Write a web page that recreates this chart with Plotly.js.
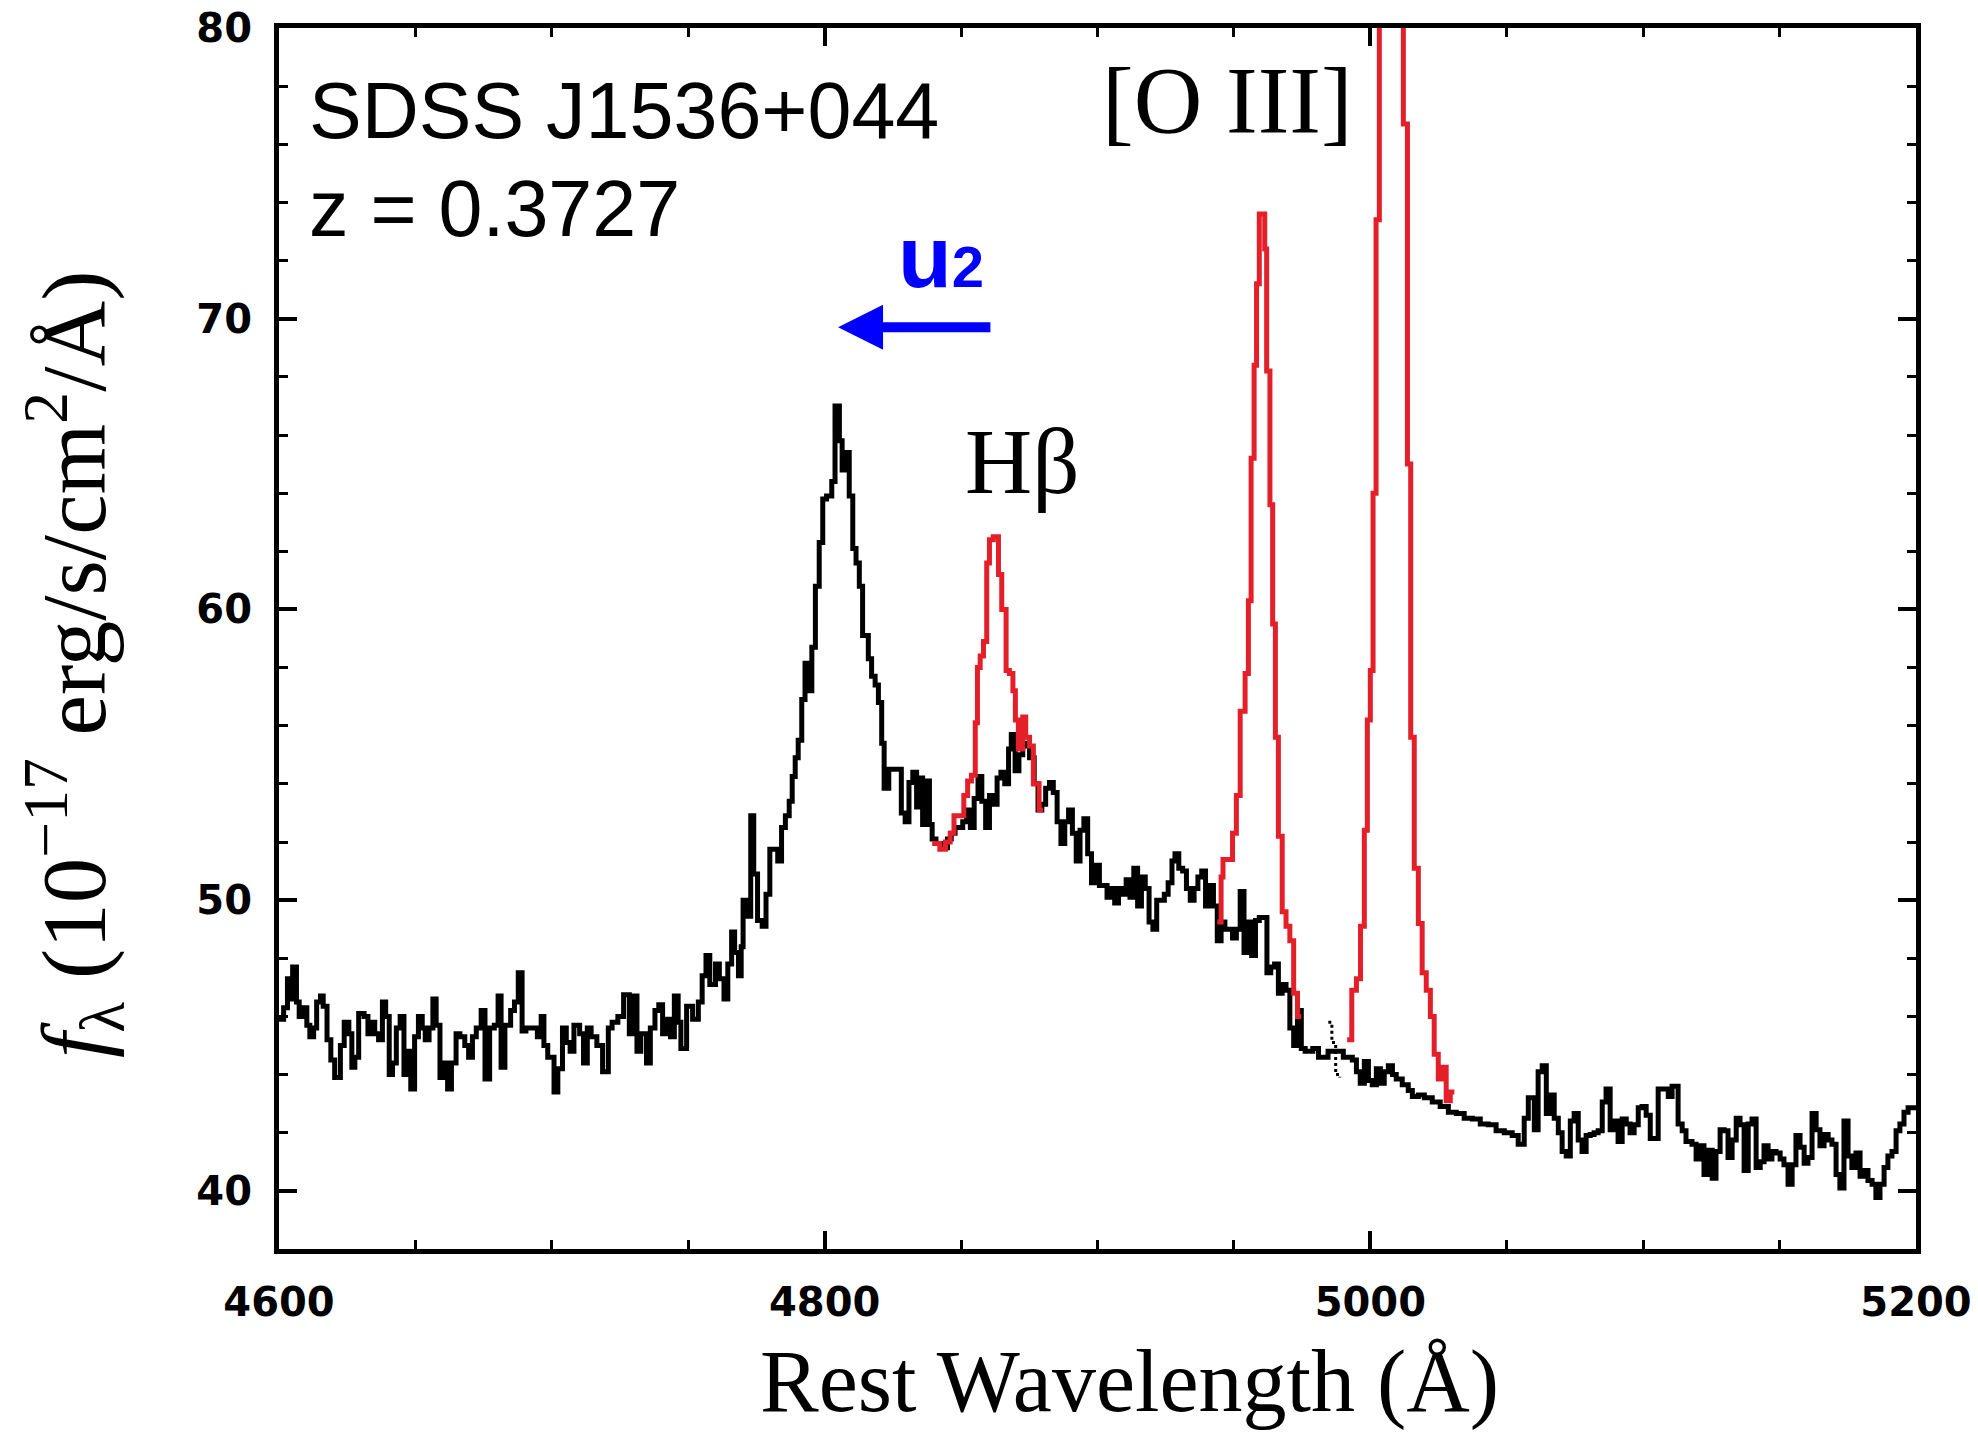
<!DOCTYPE html>
<html>
<head>
<meta charset="utf-8">
<script src="https://cdn.plot.ly/plotly-3.0.1.min.js"></script>
<style>html,body{margin:0;padding:0;background:#fff;}#chart{width:1978px;height:1439px;}</style>
</head>
<body>
<div id="chart"></div>
<script>
// Observed spectrum (narrow-line subtracted), left bin edges in rest wavelength (Å)
const blackWl = [4600.0,4601.7,4603.1,4604.3,4605.0,4606.4,4607.4,4608.8,4610.2,4611.3,4612.7,4613.8,4615.2,4616.2,4617.6,4619.0,4620.4,4622.5,4623.9,4625.6,4626.7,4627.8,4629.2,4631.2,4632.6,4634.0,4635.1,4636.5,4637.9,4639.1,4640.4,4641.6,4643.0,4644.4,4645.8,4647.2,4648.3,4649.7,4651.1,4652.5,4653.6,4655.0,4656.4,4657.6,4659.0,4660.4,4661.8,4663.2,4664.9,4666.3,4668.1,4669.5,4670.9,4672.3,4674.1,4675.5,4677.2,4678.9,4680.3,4681.4,4682.8,4684.9,4686.3,4687.7,4689.1,4690.5,4692.6,4694.7,4696.1,4697.1,4698.5,4700.8,4702.2,4703.9,4705.3,4706.7,4708.1,4710.2,4711.6,4713.0,4714.4,4716.5,4718.6,4720.7,4722.1,4724.2,4726.3,4728.4,4729.8,4731.2,4732.6,4734.7,4736.1,4737.8,4739.2,4740.6,4742.0,4743.5,4744.9,4746.3,4747.3,4749.4,4751.6,4753.7,4755.1,4756.5,4757.9,4760.0,4761.4,4763.1,4764.5,4765.9,4767.0,4768.4,4769.4,4770.1,4771.5,4772.9,4774.0,4775.4,4777.1,4778.5,4779.9,4782.8,4784.2,4785.6,4787.0,4788.1,4789.2,4790.3,4791.6,4792.8,4793.8,4795.3,4796.6,4798.0,4799.3,4800.7,4802.6,4803.8,4805.4,4806.4,4807.6,4809.0,4810.3,4811.5,4812.7,4813.9,4816.0,4817.2,4818.5,4819.7,4820.9,4821.8,4823.5,4828.1,4829.5,4830.9,4832.3,4833.7,4834.7,4835.9,4837.2,4838.4,4839.4,4840.8,4842.9,4845.0,4846.4,4847.8,4850.6,4852.0,4853.4,4854.8,4856.2,4857.6,4859.0,4860.4,4861.8,4863.2,4864.6,4866.0,4867.4,4868.4,4869.8,4871.2,4872.6,4874.0,4875.1,4876.8,4878.2,4879.6,4881.0,4882.4,4883.8,4885.2,4886.6,4888.0,4889.4,4890.8,4892.2,4893.6,4895.0,4896.4,4897.8,4899.3,4900.7,4903.5,4904.9,4906.3,4907.7,4909.1,4910.5,4911.9,4913.3,4914.7,4916.1,4917.5,4918.9,4920.3,4921.7,4924.5,4925.9,4927.3,4928.4,4929.8,4931.2,4932.6,4934.0,4935.4,4936.8,4938.2,4939.6,4941.1,4942.5,4943.9,4945.3,4946.7,4949.5,4950.9,4952.3,4953.7,4955.1,4956.5,4957.9,4959.3,4962.1,4963.5,4964.9,4966.3,4967.7,4969.1,4970.5,4971.9,4973.3,4974.7,4976.1,4978.9,4981.0,4984.5,4990.1,4993.4,4994.9,4996.3,4997.8,4999.3,5000.7,5002.2,5003.7,5005.1,5006.6,5008.1,5009.5,5011.7,5013.9,5015.4,5017.6,5019.8,5022.7,5025.6,5028.6,5031.5,5034.4,5037.4,5040.3,5043.2,5046.1,5049.1,5052.0,5054.2,5056.4,5057.9,5060.1,5061.5,5063.0,5064.5,5065.9,5067.4,5068.9,5070.3,5071.8,5073.3,5074.7,5076.2,5077.6,5079.1,5080.6,5082.0,5083.5,5085.0,5086.4,5087.9,5089.4,5090.8,5092.3,5093.8,5095.2,5096.7,5098.2,5099.6,5101.1,5102.6,5104.0,5105.5,5106.9,5109.2,5110.6,5112.8,5114.3,5115.7,5117.9,5119.4,5120.9,5122.3,5123.8,5125.3,5126.7,5128.2,5129.7,5131.1,5132.6,5134.1,5135.5,5137.0,5138.5,5139.9,5141.4,5142.9,5144.3,5145.8,5147.2,5148.7,5150.2,5151.6,5153.1,5154.6,5156.0,5157.5,5159.0,5160.4,5161.9,5163.4,5164.8,5166.3,5167.8,5169.2,5170.7,5172.1,5173.6,5175.1,5176.5,5178.0,5179.5,5180.9,5182.4,5183.9,5185.3,5186.8,5188.3,5189.7,5191.2,5192.7,5194.1,5195.6,5197.1,5200.0];
const blackFlux = [45.9,46.3,47.3,46.6,47.7,46.5,46.0,46.3,45.7,45.3,45.6,46.5,46.7,46.35,45.2,44.5,43.9,45.0,45.8,45.4,44.25,44.6,46.1,46.0,45.4,45.8,45.4,45.2,46.5,46.0,44.0,44.4,45.6,46.0,44.0,44.8,43.5,45.3,46.0,45.6,45.2,45.6,46.6,45.7,43.9,44.4,43.5,44.4,45.4,45.3,45.0,44.6,45.3,45.6,46.2,43.85,45.6,45.7,46.7,44.25,45.7,46.2,46.5,47.5,45.5,45.6,45.6,45.3,46.0,45.0,44.6,43.4,44.2,45.6,45.1,44.8,45.7,45.4,44.4,45.6,45.3,45.0,44.1,45.6,45.8,46.0,46.75,45.4,46.7,44.8,45.4,44.4,45.6,46.2,46.4,45.4,45.9,45.3,46.7,45.8,44.9,46.35,45.9,46.5,47.4,48.1,47.1,47.8,47.3,46.6,47.8,48.9,48.2,47.4,48.4,50.0,49.45,52.9,50.9,49.3,49.1,50.2,51.75,51.35,52.5,52.9,53.4,54.25,54.9,55.5,56.9,58.15,57.2,58.7,60.8,62.3,63.8,63.9,64.4,67.0,65.8,64.8,65.4,63.9,62.1,61.6,60.8,59.1,58.3,57.7,57.4,56.8,55.4,53.85,54.5,53.0,52.7,54.05,54.4,53.2,54.2,52.6,54.1,52.6,52.1,51.95,51.8,52.1,52.3,52.5,52.7,53.1,52.5,53.5,54.25,53.4,52.5,53.6,53.3,54.2,54.4,54.0,55.2,55.7,54.45,55.0,55.4,55.3,54.9,54.0,53.1,53.3,53.85,54.05,53.7,52.7,51.95,52.7,53.1,52.3,51.35,52.4,52.8,51.6,50.6,51.2,50.5,50.1,50.4,49.9,50.4,50.2,50.7,50.1,51.1,49.8,50.8,50.4,49.25,49.0,50.0,50.2,50.6,51.35,51.6,51.1,51.0,50.4,50.0,50.4,50.8,51.0,49.8,50.5,49.8,48.6,49.25,49.0,48.7,49.0,50.3,48.2,49.25,48.1,49.3,49.4,47.5,47.7,47.8,46.8,47.1,46.9,45.6,45.0,46.2,44.9,44.8,44.9,44.6,44.8,44.6,44.5,44.1,43.7,44.45,43.8,43.65,44.2,43.7,44.1,44.3,44.0,43.85,43.65,43.45,43.25,43.3,43.2,43.06,42.9,42.7,42.66,42.5,42.47,42.3,42.27,42.07,42.0,41.9,41.6,42.5,43.2,42.1,44.1,44.3,42.66,43.3,42.5,42.0,41.35,41.2,42.4,42.66,41.75,41.35,41.9,41.94,42.0,42.07,43.06,43.5,42.1,42.4,41.7,42.47,42.3,42.0,42.27,42.86,42.9,42.6,41.8,41.8,43.5,43.5,43.25,43.6,42.3,42.07,41.7,41.6,41.1,41.55,40.56,41.4,40.43,41.35,42.1,42.07,41.15,41.75,42.5,42.27,40.7,42.3,42.47,40.8,41.0,41.55,41.1,41.35,41.3,41.1,40.9,40.23,40.9,41.9,41.5,40.95,41.15,42.66,42.1,41.55,41.94,41.75,41.6,40.56,40.1,42.4,41.2,40.8,41.3,40.5,40.7,40.36,40.23,39.77,40.23,40.8,41.2,41.35,42.07,42.3,42.7,42.86,42.86];

// Original spectrum in the narrow-line windows (red)
const hbWl = [4839.4,4842.2,4844.3,4846.0,4847.4,4851.0,4852.4,4853.8,4855.2,4856.0,4857.0,4858.2,4859.4,4860.4,4861.8,4863.7,4864.9,4866.5,4867.7,4869.0,4869.9,4871.0,4872.6,4873.7,4875.1,4876.5,4878.6,4880.0];
const hbFlux = [51.95,51.75,52.0,52.3,52.9,53.6,54.1,54.3,56.1,58.0,58.4,58.9,61.6,62.4,62.5,61.2,60.0,57.9,57.8,57.2,56.2,55.2,56.3,55.6,55.3,54.0,53.1,53.1];
const o3aWl = [4943.9,4945.3,4946.0,4949.5,4950.9,4952.3,4954.1,4955.3,4956.3,4957.4,4958.3,4959.3,4961.3,4962.0,4963.2,4964.2,4965.2,4966.3,4967.7,4969.1,4970.5,4971.9,4973.3,4974.7];
const o3aFlux = [49.25,50.8,51.4,52.3,53.6,56.5,57.8,60.3,65.2,68.4,71.2,73.6,72.4,68.2,63.6,59.5,55.6,52.2,49.6,49.1,48.6,46.8,46.0,46.0];
const o3bWl = [4991.5,4993.2,4994.9,4996.4,4997.8,4998.9,5000.0,5001.0,5002.1,5003.3,5004.5,5005.7,5006.9,5008.1,5009.3,5010.7,5012.1,5013.6,5014.8,5016.1,5017.6,5019.0,5020.5,5022.0,5023.4,5024.9,5026.4,5027.8,5029.3,5030.8];
const o3bFlux = [45.2,46.9,47.3,49.1,52.4,56.2,57.9,64.0,73.4,90,105,115,118,112,100,88,76.7,65.0,55.6,51.1,49.2,47.5,46.9,46.0,44.7,43.85,44.25,43.1,43.4,43.4];
// masked pixels (dotted)
const maskWl = [4984.6,4985.9,4987.3,4988.8];
const maskFlux = [45.8,45.1,44.0,43.9];

const xTicks = [4600, 4800, 5000, 5200];
const yTicks = [40, 50, 60, 70, 80];

const RED = '#e3202a';
const LW = 5;
const traces = [
  {x: blackWl, y: blackFlux, type: 'scatter', mode: 'lines', line: {shape: 'hv', color: '#000', width: LW}},
  {x: maskWl, y: maskFlux, type: 'scatter', mode: 'lines', line: {shape: 'hv', color: '#000', width: 3, dash: 'dot'}},
  {x: hbWl, y: hbFlux, type: 'scatter', mode: 'lines', line: {shape: 'hv', color: RED, width: LW}},
  {x: o3aWl, y: o3aFlux, type: 'scatter', mode: 'lines', line: {shape: 'hv', color: RED, width: LW}},
  {x: o3bWl, y: o3bFlux, type: 'scatter', mode: 'lines', line: {shape: 'hv', color: RED, width: LW}}
];

const tickFont = {family: 'DejaVu Sans', size: 40, weight: 700, color: '#000'};
const W = 1978, H = 1439, L = 279, R = 62, T = 28, B = 190;
const pw = W - L - R, ph = H - T - B;
function px(x){ return (x - L) / pw; }
function py(y){ return (H - B - y) / ph; }

const layout = {
  width: W, height: H,
  margin: {l: L, r: R, t: T, b: B, pad: 0},
  paper_bgcolor: '#fff', plot_bgcolor: '#fff',
  showlegend: false,
  xaxis: {
    range: [4600, 5200], tickmode: 'array', tickvals: xTicks, ticktext: xTicks.map(String),
    ticks: 'inside', ticklen: 18, tickwidth: 4, tickcolor: '#000',
    showline: true, linewidth: 5, linecolor: '#000', mirror: 'ticks',
    showgrid: false, zeroline: false, tickfont: tickFont, ticklabelstandoff: 14,
    minor: {dtick: 50, tick0: 4600, ticks: 'inside', ticklen: 9, tickwidth: 3, tickcolor: '#000', showgrid: false}
  },
  yaxis: {
    range: [38, 80], tickmode: 'array', tickvals: yTicks, ticktext: yTicks.map(String),
    ticks: 'inside', ticklen: 18, tickwidth: 4, tickcolor: '#000',
    showline: true, linewidth: 5, linecolor: '#000', mirror: 'ticks',
    showgrid: false, zeroline: false, tickfont: tickFont, ticklabelstandoff: 14,
    minor: {dtick: 2, tick0: 0, ticks: 'inside', ticklen: 9, tickwidth: 3, tickcolor: '#000', showgrid: false}
  },
  annotations: [
    // axis titles
    {xref: 'paper', yref: 'paper', x: px(1129), y: py(1381), xanchor: 'center', yanchor: 'middle', showarrow: false,
     text: 'Rest Wavelength (Å)', font: {family: 'Liberation Serif', size: 88, color: '#000'}},
    {xref: 'paper', yref: 'paper', x: px(74), y: py(665), xanchor: 'center', yanchor: 'middle', showarrow: false, textangle: -90,
     text: '<i>f</i><sub>λ</sub> (10<sup>−17</sup> erg/s/cm<sup>2</sup>/Å)', font: {family: 'Liberation Serif', size: 91, color: '#000'}},
    // labels
    {xref: 'paper', yref: 'paper', x: px(307), y: py(111), xanchor: 'left', yanchor: 'middle', showarrow: false,
     text: 'SDSS J1536+044', font: {family: 'Liberation Sans', size: 79, color: '#000'}},
    {xref: 'paper', yref: 'paper', x: px(307), y: py(208), xanchor: 'left', yanchor: 'middle', showarrow: false,
     text: 'z = 0.3727', font: {family: 'Liberation Sans', size: 79, color: '#000'}},
    {xref: 'paper', yref: 'paper', x: px(1227), y: py(101), xanchor: 'center', yanchor: 'middle', showarrow: false,
     text: '[O III]', font: {family: 'Liberation Serif', size: 95, color: '#000'}},
    {xref: 'paper', yref: 'paper', x: px(1022), y: py(461), xanchor: 'center', yanchor: 'middle', showarrow: false,
     text: 'Hβ', font: {family: 'Liberation Serif', size: 93, color: '#000'}},
    {xref: 'paper', yref: 'paper', x: px(896), y: py(256), xanchor: 'left', yanchor: 'middle', showarrow: false,
     text: 'u<span style="font-size:58px">2</span>', font: {family: 'Liberation Sans', size: 88, weight: 700, color: '#0000ff'}},
    // arrow
    {xref: 'x', yref: 'y', x: 4804.9, y: 69.71, axref: 'x', ayref: 'y', ax: 4861.3, ay: 69.71, text: '',
     showarrow: true, arrowhead: 2, arrowsize: 0.9, arrowwidth: 10, arrowcolor: '#0000ff', standoff: 0}
  ]
};

Plotly.newPlot('chart', traces, layout, {displayModeBar: false, staticPlot: true});
</script>
</body>
</html>
